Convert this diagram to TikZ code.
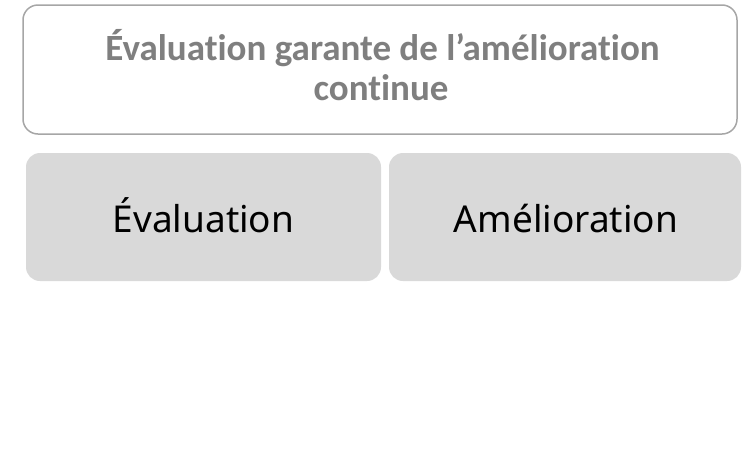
\documentclass[tikz,border=0pt]{standalone}
\usepackage{fontspec}
\setmainfont[Ligatures=NoCommon]{Carlito}
\newfontfamily\boxfont{Noto Sans}
\definecolor{bordergray}{HTML}{A6A6A6}
\definecolor{textgray}{HTML}{7F7F7F}
\definecolor{fillgray}{HTML}{D9D9D9}
\begin{document}
\begin{tikzpicture}[x=1pt,y=-1pt,
  topbox/.style={draw=bordergray, line width=1.5pt, rounded corners=15pt, fill=white},
  subbox/.style={fill=fillgray, rounded corners=14pt},
  toptext/.style={font=\fontsize{37}{40}\selectfont\bfseries, text=textgray, inner sep=0pt, anchor=base},
  subtext/.style={font=\boxfont\fontsize{37}{44}\selectfont, text=black, inner sep=0pt, anchor=base}]
\useasboundingbox (0,0) rectangle (743,461);
\draw[topbox] (23,5) rectangle (737,134);
\node[toptext] (title1) at (382.5,60) {Évaluation garante de l’amélioration};
\node[toptext] (title2) at (381,100) {continue};
\fill[subbox] (26,153) rectangle (381,281);
\fill[subbox] (389,153) rectangle (741,281);
\node[subtext] (eval) at (203.5,232) {Évaluation};
\node[subtext] (amel) at (566,232) {Amélioration};
\end{tikzpicture}
\end{document}
